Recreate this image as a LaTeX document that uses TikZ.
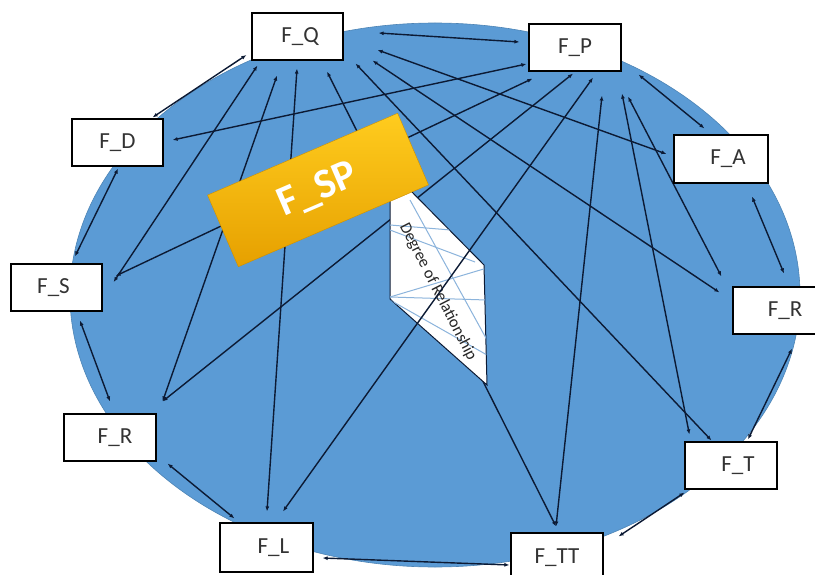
\documentclass[tikz,border=0pt]{standalone}
\usepackage{fontspec}
\setmainfont{Carlito}
\usetikzlibrary{arrows.meta}
\pgfdeclarelayer{bg}
\pgfdeclarelayer{lines}
\pgfsetlayers{bg,lines,main}
\definecolor{ellblue}{RGB}{91,155,213}
\definecolor{navy}{RGB}{12,26,52}
\definecolor{goldtop}{RGB}{255,204,30}
\definecolor{goldbot}{RGB}{230,160,0}
\definecolor{lightline}{RGB}{140,180,220}
\begin{document}
\begin{tikzpicture}[x=1bp,y=-1bp,
  fbox/.style={draw=black, line width=1.2bp, fill=white, inner sep=0pt, text=black!80, font=\fontsize{23bp}{26bp}\selectfont},
  conn/.style={draw=navy, line width=1.4bp, {Latex[length=5bp,width=4bp]}-{Latex[length=5bp,width=4bp]}},
  faint/.style={draw=lightline, line width=1bp}]
\useasboundingbox (0,0) rectangle (815,575);
\clip (0,0) rectangle (815,575);
\begin{pgfonlayer}{bg}
\filldraw[fill=ellblue, draw=ellblue!85!black, line width=0.6bp] (435,295) ellipse [x radius=365, y radius=272];
\end{pgfonlayer}
% boxes
\node[fbox, minimum width=91bp, minimum height=47bp] (FQ) at (297.5,36.5) {\hspace*{5bp}F\_Q};
\node[fbox, minimum width=92bp, minimum height=47bp] (FP) at (575,47.5) {F\_P};
\node[fbox, minimum width=91bp, minimum height=47bp] (FD) at (117.5,142.5) {F\_D};
\node[fbox, minimum width=94bp, minimum height=48bp] (FA) at (721,159) {\hspace*{14bp}F\_A};
\node[fbox, minimum width=91bp, minimum height=47bp] (FS) at (56.5,287.5) {F\_S\hspace*{6bp}};
\node[fbox, minimum width=84bp, minimum height=47bp] (FRr) at (775,310.5) {\hspace*{20bp}F\_R};
\node[fbox, minimum width=92bp, minimum height=47bp] (FRl) at (110,437.5) {\hspace*{10bp}F\_R};
\node[fbox, minimum width=93bp, minimum height=49bp] (FL) at (266.5,547.5) {\hspace*{14bp}F\_L};
\node[fbox, minimum width=92bp, minimum height=47bp] (FT) at (731,465.5) {\hspace*{14bp}F\_T};
\node[fbox, minimum width=92bp, minimum height=49bp] (FTT) at (557,557.5) {F\_TT};
% connectors
\begin{pgfonlayer}{lines}
\draw[conn] ([shift={(35,-3.5)}]FQ.east) -- ([shift={(-9,-5.5)}]FP.west);
\draw[conn] ([shift={(34,13.5)}]FQ.east) -- ([shift={(-7,-5)}]FA.west);
\draw[conn] ([shift={(29,0)}]FQ.south east) -- ([shift={(-13,6)}]FRr.north west);
\draw[conn] ([shift={(12,3)}]FQ.south east) -- ([shift={(27,-1)}]FT.north west);
\draw[conn] ([shift={(29.5,11)}]FQ.south) -- ([shift={(-1,-6)}]FTT.north);
\draw[conn] ([shift={(-0.5,8)}]FQ.south) -- ([shift={(0.5,-11)}]FL.north);
\draw[conn] ([shift={(-20.5,15)}]FQ.south) -- ([shift={(6,-12)}]FRl.north east);
\draw[conn] ([shift={(6,5)}]FQ.south west) -- ([shift={(11,-5.5)}]FS.east);
\draw[conn] ([shift={(-5,18.5)}]FQ.west) -- ([shift={(-11,-1)}]FD.north east);
\draw[conn] ([shift={(-2,16.5)}]FP.west) -- ([shift={(9,-2.5)}]FD.east);
\draw[conn] ([shift={(4,7)}]FP.south west) -- ([shift={(13,-11.5)}]FS.east);
\draw[conn] ([shift={(-2,2)}]FP.south) -- ([shift={(6,-12)}]FRl.north east);
\draw[conn] ([shift={(27,24)}]FP.south) -- ([shift={(-1,-6)}]FTT.north);
\draw[conn] ([shift={(47,22)}]FP.south) -- ([shift={(5,-7)}]FT.north west);
\draw[conn] ([shift={(53,25)}]FP.south) -- ([shift={(-11,-10)}]FRr.north west);
\draw[conn] ([shift={(17,3)}]FP.south east) -- ([shift={(31,-6)}]FA.north west);
\draw[conn] ([shift={(31,13)}]FA.south) -- ([shift={(9,-13)}]FRr.north);
\draw[conn] ([shift={(17,14)}]FRr.south) -- ([shift={(17,-2)}]FT.north);
\draw[conn] ([shift={(0,3)}]FT.south west) -- ([shift={(15,4)}]FTT.north east);
\draw[conn] ([shift={(-1,7.5)}]FTT.west) -- ([shift={(9,10.5)}]FL.east);
\draw[conn] ([shift={(15,-4)}]FL.north west) -- ([shift={(11,2)}]FRl.south east);
\draw[conn] ([shift={(0,-12)}]FRl.north) -- ([shift={(23.5,9)}]FS.south);
\draw[conn] ([shift={(18.5,-7)}]FS.north) -- ([shift={(0.5,2)}]FD.south);
\end{pgfonlayer}
% degree of relationship panel
\filldraw[fill=white, draw=navy, line width=1bp] (390,200) -- (410,190) -- (484,265) -- (487,385) -- (390,299) -- cycle;
\begin{scope}
\clip (390,200) -- (410,190) -- (484,265) -- (487,385) -- (390,299) -- cycle;
\draw[faint] (390,225) -- (487,233);
\draw[faint] (390,230) -- (475,262);
\draw[faint] (390,297) -- (487,268);
\draw[faint] (390,297) -- (487,300);
\draw[faint] (390,300) -- (487,355);
\draw[faint] (410,200) -- (487,340);
\end{scope}
\node[rotate=-63, font=\fontsize{16.5bp}{18bp}\selectfont, text=black!85, inner sep=0pt] (DoR) at (438,292) {Degree of Relationship};
\draw[conn] ([shift={(18,6)}]FP.south) -- ([shift={(16.5,-11)}]FL.north);
% F_SP
\node[rotate=23.3, minimum width=207bp, minimum height=78bp, inner sep=0pt, top color=goldtop, bottom color=goldbot, draw=goldbot!90!black, line width=0.4bp, text=white, font=\fontsize{42bp}{46bp}\selectfont\bfseries] (FSP) at (318,190) {F\_SP};
\end{tikzpicture}
\end{document}
